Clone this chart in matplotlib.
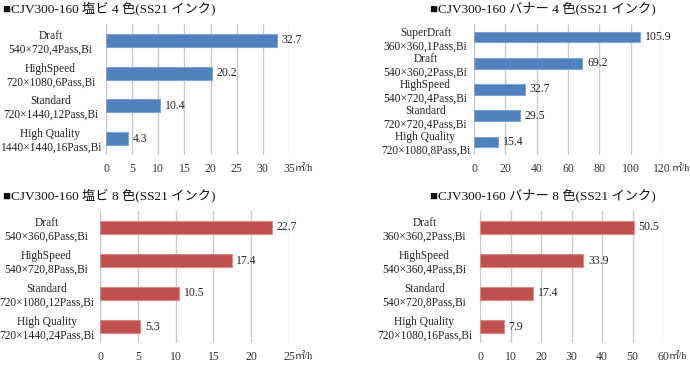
import matplotlib.pyplot as plt
from matplotlib.transforms import offset_copy

plt.rcParams['font.family'] = ['Liberation Serif', 'Noto Sans CJK JP']

W, H = 690, 376

# data
titles = ['■CJV300-160 塩ビ 4 色(SS21 インク)', '■CJV300-160 バナー 4 色(SS21 インク)',
          '■CJV300-160 塩ビ 8 色(SS21 インク)', '■CJV300-160 バナー 8 色(SS21 インク)']

labels_1 = ['Draft\n540×720,4Pass,Bi', 'HighSpeed\n720×1080,6Pass,Bi',
            'Standard\n720×1440,12Pass,Bi', 'High Quality\n1440×1440,16Pass,Bi']
values_1 = [32.7, 20.2, 10.4, 4.3]

labels_2 = ['SuperDraft\n360×360,1Pass,Bi', 'Draft\n540×360,2Pass,Bi', 'HighSpeed\n540×720,4Pass,Bi',
            'Standard\n720×720,4Pass,Bi', 'High Quality\n720×1080,8Pass,Bi']
values_2 = [105.9, 69.2, 32.7, 29.5, 15.4]

labels_3 = ['Draft\n540×360,6Pass,Bi', 'HighSpeed\n540×720,8Pass,Bi',
            'Standard\n720×1080,12Pass,Bi', 'High Quality\n720×1440,24Pass,Bi']
values_3 = [22.7, 17.4, 10.5, 5.3]

labels_4 = ['Draft\n360×360,2Pass,Bi', 'HighSpeed\n540×360,4Pass,Bi',
            'Standard\n540×720,8Pass,Bi', 'High Quality\n720×1080,16Pass,Bi']
values_4 = [50.5, 33.9, 17.4, 7.9]

xmax = [35, 120, 25, 60]
xstep = [5, 20, 5, 10]

blue = '#4F81BD'
red = '#C0504D'

fig = plt.figure(figsize=(W / 100, H / 100), dpi=100)


def panel(box, title, title_x, labels, values, vmax, step, color, edge, pad, unit_dx):
    x0, y0, x1, y1 = box
    ax = fig.add_axes([x0 / W, 1 - y1 / H, (x1 - x0) / W, (y1 - y0) / H])
    pos = list(range(len(values)))
    ax.barh(pos, values, height=0.4, color=color, edgecolor=edge, linewidth=0.8, zorder=3)
    ax.set_ylim(len(values) - 0.5, -0.5)
    ax.set_xlim(0, vmax)
    ticks = list(range(0, vmax + 1, step))
    ax.set_xticks(ticks)
    ax.set_xticklabels([str(t) for t in ticks], fontsize=8.5, color='#333333')
    ax.set_yticks(pos)
    ax.set_yticklabels(labels, fontsize=8.3, color='#222222', linespacing=1.2, ha='center')
    ax.tick_params(axis='y', length=0, pad=pad)
    ax.tick_params(axis='x', length=0, pad=6)
    ax.grid(axis='x', color='#c8c8c8', linewidth=1, zorder=0)
    for s in ax.spines.values():
        s.set_visible(False)
    for p, v in zip(pos, values):
        ax.text(v + vmax * 0.025, p, f'{v}', va='center', ha='left', fontsize=8.5, color='#222222')
    tr = offset_copy(ax.transAxes, fig=fig, x=unit_dx, y=-6.5, units='points')
    ax.text(1.0, 0.0, '㎡/h', transform=tr, fontsize=7.5, va='top', ha='left', color='#333333')
    fig.text(title_x / W, 1 - (y0 - 16) / H, title, fontsize=9.5, va='center',
             ha='left', color='#111111')
    return ax


panel((106, 24, 289, 155), titles[0], 3, labels_1, values_1, xmax[0], xstep[0], blue, '#7fa3d3', 40, 4)
panel((474, 24, 662, 155), titles[1], 430, labels_2, values_2, xmax[1], xstep[1], blue, '#7fa3d3', 35, 7)
panel((100, 211, 289, 343), titles[2], 3, labels_3, values_3, xmax[2], xstep[2], red, '#d98a88', 38.5, 4)
panel((480, 211, 663, 343), titles[3], 430, labels_4, values_4, xmax[3], xstep[3], red, '#d98a88', 40, 4)

fig.savefig('out.png', dpi=100, facecolor='white')
